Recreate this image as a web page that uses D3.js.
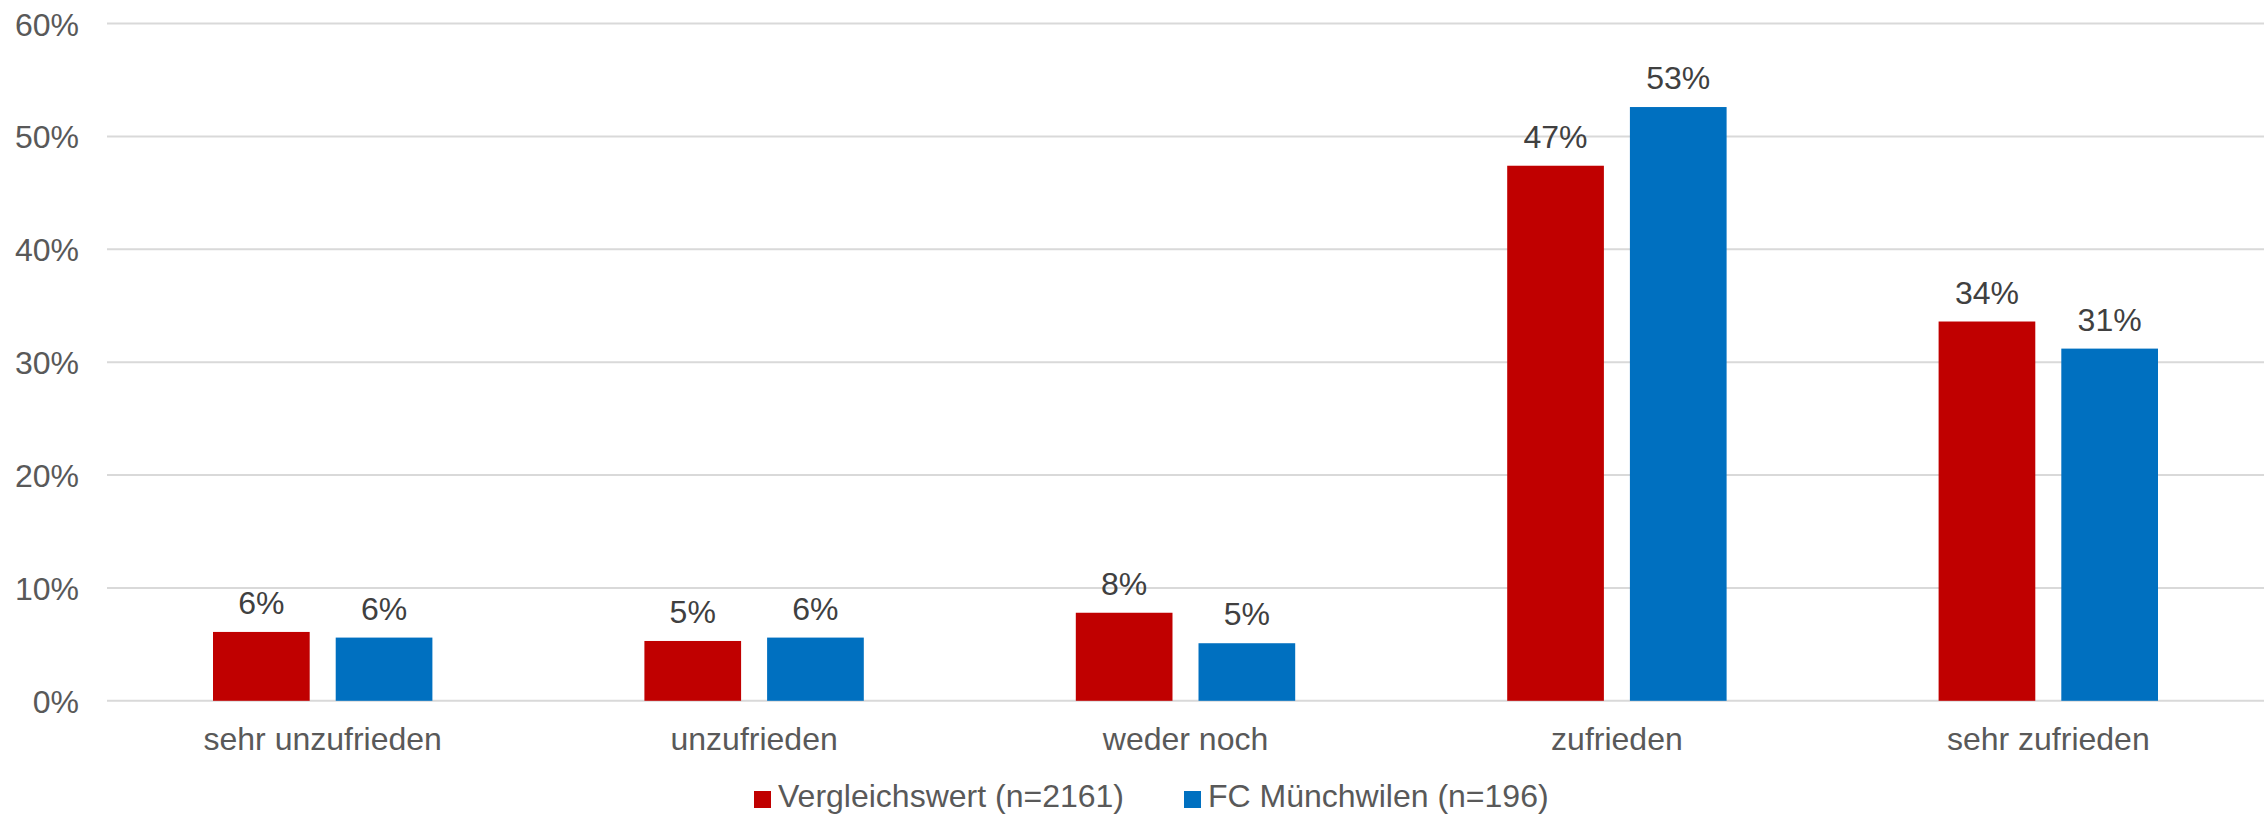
<!DOCTYPE html>
<html>
<head>
<meta charset="utf-8">
<script src="https://cdn.jsdelivr.net/npm/d3@7"></script>
<style>
  body { margin: 0; background: #fff; }
  text { font-family: "Liberation Sans", Arial, sans-serif; }
</style>
</head>
<body>
<svg id="chart"></svg>
<script>
var width = 2267;
var height = 816;

// data
var categories = ["sehr unzufrieden", "unzufrieden", "weder noch", "zufrieden", "sehr zufrieden"];
var seriesNames = ["Vergleichswert (n=2161)", "FC Münchwilen (n=196)"];
var vergleich = [0.061, 0.053, 0.078, 0.474, 0.336];
var muenchwilen = [0.056, 0.056, 0.051, 0.526, 0.312];
var valueLabels = [["6%", "5%", "8%", "47%", "34%"], ["6%", "6%", "5%", "53%", "31%"]];
var yTicks = [0, 0.1, 0.2, 0.3, 0.4, 0.5, 0.6];
var colors = ["#c00000", "#0070c0"];

var svg = d3.select("#chart")
    .attr("width", width)
    .attr("height", height);

var x0 = d3.scaleBand()
    .domain(categories)
    .range([107, 2264])
    .paddingInner(0);

var pair = 219.4;
var x1 = d3.scaleBand()
    .domain([0, 1])
    .range([(x0.bandwidth() - pair) / 2, (x0.bandwidth() + pair) / 2])
    .paddingInner(0.212);

var y = d3.scaleLinear()
    .domain([0, 0.6])
    .range([700.8, 23.5]);

// gridlines
svg.append("g")
  .selectAll("line")
  .data(yTicks)
  .enter()
  .append("line")
    .attr("x1", 107)
    .attr("x2", 2264)
    .attr("y1", function(d){ return y(d); })
    .attr("y2", function(d){ return y(d); })
    .attr("stroke", "#d9d9d9")
    .attr("stroke-width", 2);

// y axis labels
var yAxis = d3.axisLeft(y)
    .tickValues(yTicks)
    .tickFormat(d3.format(".0%"))
    .tickSize(0)
    .tickPadding(0);

var ya = svg.append("g")
    .attr("transform", "translate(79,0)")
    .call(yAxis);
ya.select(".domain").remove();
ya.selectAll("text")
    .attr("font-size", 32)
    .attr("font-family", "Liberation Sans, Arial, sans-serif")
    .attr("fill", "#595959")
    .attr("dy", "0.36em");

var rows = categories.map(function(c, i){
  return { cat: c, vals: [vergleich[i], muenchwilen[i]], idx: i };
});

var groups = svg.append("g")
  .selectAll("g")
  .data(rows)
  .enter()
  .append("g")
    .attr("transform", function(d){ return "translate(" + x0(d.cat) + ",0)"; });

groups.selectAll("rect")
  .data(function(d){ return d.vals.map(function(v, s){ return { v: v, s: s }; }); })
  .enter()
  .append("rect")
    .attr("x", function(d){ return x1(d.s); })
    .attr("width", x1.bandwidth())
    .attr("y", function(d){ return y(d.v); })
    .attr("height", function(d){ return y(0) - y(d.v); })
    .attr("fill", function(d){ return colors[d.s]; });

groups.selectAll("text.val")
  .data(function(d){ return d.vals.map(function(v, s){ return { v: v, s: s, i: d.idx }; }); })
  .enter()
  .append("text")
    .attr("class", "val")
    .attr("x", function(d){ return x1(d.s) + x1.bandwidth() / 2; })
    .attr("y", function(d){ return y(d.v) - 18; })
    .attr("text-anchor", "middle")
    .attr("font-size", 32)
    .attr("fill", "#404040")
    .text(function(d){ return valueLabels[d.s][d.i]; });

// category labels
var xAxis = d3.axisBottom(x0).tickSize(0).tickPadding(0);
var xa = svg.append("g")
    .attr("transform", "translate(0,750)")
    .call(xAxis);
xa.select(".domain").remove();
xa.selectAll("text")
    .attr("font-size", 32)
    .attr("font-family", "Liberation Sans, Arial, sans-serif")
    .attr("fill", "#595959")
    .attr("dy", 0)
    .attr("y", 0);

// legend
var legendX = [754, 1184];
var legend = svg.append("g")
  .selectAll("g")
  .data(seriesNames)
  .enter()
  .append("g")
    .attr("transform", function(d, i){ return "translate(" + legendX[i] + ",0)"; });

legend.append("rect")
    .attr("x", 0)
    .attr("y", 791)
    .attr("width", 17)
    .attr("height", 17)
    .attr("fill", function(d, i){ return colors[i]; });

legend.append("text")
    .attr("x", 24)
    .attr("y", 807)
    .attr("font-size", 32)
    .attr("fill", "#595959")
    .text(function(d){ return d; });
</script>
</body>
</html>
